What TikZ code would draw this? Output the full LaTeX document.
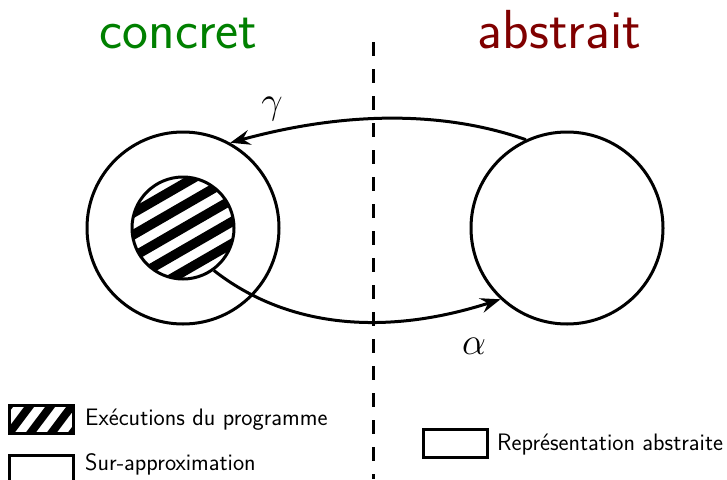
\RequirePackage{fix-cm}
\documentclass[tikz,border=0pt]{standalone}
\usetikzlibrary{arrows.meta}
\definecolor{concretgreen}{RGB}{0,128,0}
\definecolor{abstraitred}{RGB}{128,0,0}
\begin{document}
\begin{tikzpicture}[x=1pt,y=-1pt,
  ring/.style={draw,circle,line width=3pt,inner sep=0pt,minimum size=#1},
  legbox/.style={draw,line width=3pt,inner sep=0pt,minimum width=64pt,minimum height=28pt},
  legtext/.style={inner sep=0pt,anchor=base west,font=\fontsize{23.8}{28}\selectfont\sffamily},
  title/.style={inner sep=0pt,anchor=base,font=\fontsize{55}{64}\selectfont\sffamily},
  greek/.style={inner sep=0pt,font=\fontsize{38}{42}\selectfont},
  conn/.style={line width=3pt,-{Stealth[length=20pt,width=15pt,inset=7pt]}},
  stripe/.style={line width=#1}]
\useasboundingbox (0,0) rectangle (727,479);

% dashed separator
\coordinate (sepT) at (373,42);
\coordinate (sepB) at (373,479);
\draw[line width=3pt,dash pattern=on 14pt off 13pt] (sepT) -- (sepB);

% titles
\node[title,text=concretgreen] (tc) at (178.5,48) {concret};
\node[title,text=abstraitred] (ta) at (559.5,48) {abstrait};

% hatched inner circle
\begin{scope}
  \clip (183,228) circle (51);
  \begin{scope}[shift={(183,228)},rotate=30]
    \foreach \k in {-4,...,4} \draw[stripe=9.5pt] (-80,\k*19) -- (80,\k*19);
  \end{scope}
\end{scope}
\node[ring=102pt] (hc) at (183,228) {};
\node[ring=192pt] (lc) at (183,228) {};
\node[ring=192pt] (rc) at (567,228) {};

% arrows
\draw[conn] (rc.115) .. controls (438,109) and (339,113) .. (lc.61);
\draw[conn] (hc.-54) .. controls (286,327) and (383,337) .. (rc.-133);
\node[greek] (gam) at (272,109) {$\gamma$};
\node[greek] (alp) at (474,346) {$\alpha$};

% legend
\begin{scope}
  \clip (9,405) rectangle (73,433);
  \begin{scope}[shift={(41,419)},rotate=53]
    \foreach \k in {-4,...,4} \draw[stripe=8pt] (-60,\k*16.8) -- (60,\k*16.8);
  \end{scope}
\end{scope}
\node[legbox] (l1) at (41,419) {};
\node[legtext] (t1) at (85,425) {Exécutions du programme};
\node[legbox] (l2) at (41,469) {};
\node[legtext] (t2) at (85,470) {Sur-approximation};
\node[legbox] (l3) at (455,443) {};
\node[legtext] (t3) at (497,450) {Représentation abstraite};
\end{tikzpicture}
\end{document}
